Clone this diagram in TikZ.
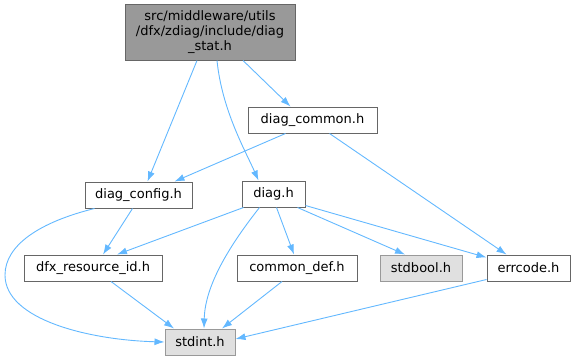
\documentclass[tikz,border=0pt]{standalone}
\usepackage{fontspec}
\setmainfont{DejaVu Sans}
\usetikzlibrary{arrows.meta,calc}
\definecolor{edgeblue}{HTML}{63B8FF}
\definecolor{bordergrey}{HTML}{666666}
\definecolor{topfill}{HTML}{999999}
\definecolor{sysfill}{HTML}{E0E0E0}
\definecolor{sysborder}{HTML}{999999}
\tikzset{
  box/.style={draw=bordergrey, fill=white, line width=1pt, inner sep=0pt, minimum height=26pt, font=\fontsize{13}{15}\selectfont, text=black},
  sysbox/.style={box, draw=sysborder, fill=sysfill},
  topbox/.style={box, fill=topfill, align=center, minimum height=56pt, minimum width=170pt},
  dep/.style={draw=edgeblue, line width=0.9pt, -{Latex[length=10pt,width=7pt]}},
}
\begin{document}
\begin{tikzpicture}[x=1pt,y=-1pt]
\useasboundingbox (0,0) rectangle (575,359);
\node[topbox] (top) at (210,32) {src/middleware/utils\\/dfx/zdiag/include/diag\\\_stat.h};
\node[box, minimum width=129pt] (common) at (312.5,120) {diag\_common.h};
\node[box, minimum width=107pt] (cfg) at (138.5,195) {diag\_config.h};
\node[box, minimum width=63pt] (diag) at (273.5,194) {diag.h};
\node[box, minimum width=138pt] (dfx) at (93,268) {dfx\_resource\_id.h};
\node[box, minimum width=120pt] (cdef) at (297,268) {common\_def.h};
\node[sysbox, minimum width=82pt] (stdbool) at (421,268) {stdbool.h};
\node[box, minimum width=83pt] (err) at (528.5,268) {errcode.h};
\node[sysbox, minimum width=70pt] (stdint) at (200,342) {stdint.h};

% top edges
\draw[dep] ($(top.south)+(-13,0)$) -- ($(cfg.north)+(9,0)$);
\draw[dep] ($(top.south)+(7,0)$) .. controls (222,110) and (245,150) .. ($(diag.north)+(-15,0)$);
\draw[dep] ($(top.south)+(33,0)$) -- ($(common.north)+(-22,0)$);
% diag_common
\draw[dep] ($(common.south)+(-27,0)$) -- ($(cfg.north)+(36,0)$);
\draw[dep] ($(common.south)+(17,0)$) -- ($(err.north)+(-22,0)$);
% diag_config
\draw[dep] ($(cfg.south)+(-44,0)$) .. controls (40,222) and (5,245) .. (5,275) .. controls (5,320) and (90,340) .. (stdint.west);
\draw[dep] ($(cfg.south)+(-6,0)$) -- ($(dfx.north)+(10,0)$);
% diag
\draw[dep] ($(diag.south)+(-30,0)$) -- ($(dfx.north)+(24,0)$);
\draw[dep] ($(diag.south)+(-14,0)$) .. controls (230,245) and (205,285) .. ($(stdint.north)+(4,0)$);
\draw[dep] ($(diag.south)+(3,0)$) -- ($(cdef.north)+(-3,0)$);
\draw[dep] ($(diag.south)+(24,0)$) -- ($(stdbool.north)+(-16,0)$);
\draw[dep] ($(diag.south east)+(0,-2)$) -- ($(err.north west)+(0,3)$);
% bottom
\draw[dep] ($(dfx.south)+(18,0)$) -- ($(stdint.north)+(-26,0)$);
\draw[dep] ($(cdef.south)+(-15,0)$) -- ($(stdint.north)+(22,0)$);
\draw[dep] ($(err.south west)+(0,-2)$) -- ($(stdint.east)+(0,-3)$);
\end{tikzpicture}
\end{document}
